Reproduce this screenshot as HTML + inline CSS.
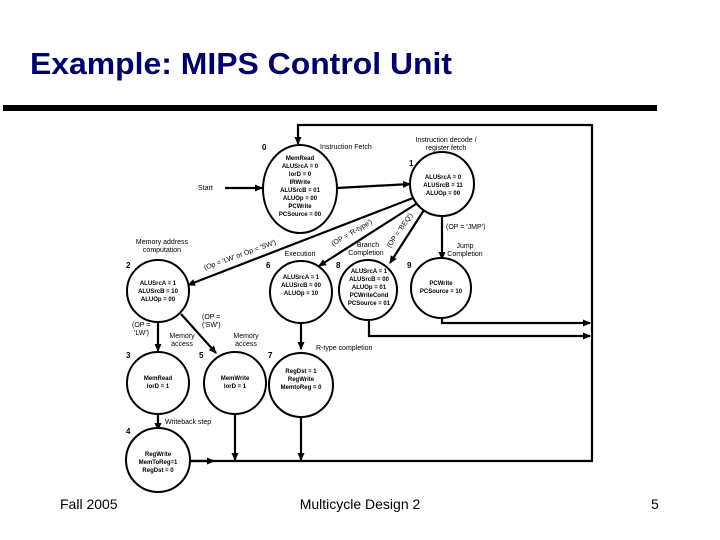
<!DOCTYPE html>
<html><head><meta charset="utf-8"><style>
html,body{margin:0;padding:0;background:#fff;}
svg{display:block;}
text{font-family:"Liberation Sans",sans-serif;}
.s{font-size:6px;font-weight:bold;text-anchor:middle;fill:#000;}
.l{font-size:7px;fill:#000;}
.n{font-size:8px;font-weight:bold;fill:#000;}
</style></head><body>
<svg width="720" height="540" viewBox="0 0 720 540" xmlns="http://www.w3.org/2000/svg">
<defs><marker id="a" markerWidth="8" markerHeight="8" refX="7" refY="4" orient="auto" markerUnits="userSpaceOnUse"><path d="M0,0.5 L8,4 L0,7.5z" fill="#000"/></marker></defs>
<text x="30" y="74" font-size="31" font-weight="bold" fill="#000066" textLength="422" lengthAdjust="spacingAndGlyphs">Example: MIPS Control Unit</text>
<rect x="3" y="105" width="654" height="6" fill="#000"/>
<g stroke="#000" stroke-width="2.2" fill="none">
<polyline points="592,124 592,461 190,461"/>
<line x1="592" y1="125" x2="298" y2="125"/>
<line x1="298" y1="124" x2="298" y2="144" marker-end="url(#a)"/>
<line x1="225" y1="188" x2="262" y2="188" marker-end="url(#a)"/>
<line x1="337" y1="188" x2="410" y2="184" marker-end="url(#a)"/>
<line x1="413" y1="198" x2="188" y2="285" marker-end="url(#a)"/>
<line x1="416" y1="204" x2="319" y2="266" marker-end="url(#a)"/>
<line x1="424" y1="210" x2="390" y2="263" marker-end="url(#a)"/>
<line x1="442" y1="214" x2="442" y2="259" marker-end="url(#a)"/>
<line x1="158" y1="322" x2="158" y2="351" marker-end="url(#a)"/>
<line x1="181" y1="314" x2="216" y2="353" marker-end="url(#a)"/>
<line x1="301" y1="323" x2="301" y2="349" marker-end="url(#a)"/>
<line x1="158" y1="414" x2="158" y2="430" marker-end="url(#a)"/>
<line x1="235" y1="414" x2="235" y2="460" marker-end="url(#a)"/>
<line x1="301" y1="418" x2="301" y2="460" marker-end="url(#a)"/>
<line x1="190" y1="461" x2="214" y2="461" marker-end="url(#a)"/>
<polyline points="442,317 442,323 590,323" marker-end="url(#a)"/>
<polyline points="369,319 369,336 590,336" marker-end="url(#a)"/>
</g>
<g stroke="#000" stroke-width="2" fill="#fff">
<ellipse cx="300" cy="189" rx="37" ry="44"/>
<circle cx="442" cy="184" r="32"/>
<circle cx="158" cy="291" r="31"/>
<circle cx="301" cy="292" r="31"/>
<ellipse cx="368" cy="290" rx="29" ry="30"/>
<circle cx="441" cy="288" r="30"/>
<circle cx="158" cy="383" r="31"/>
<circle cx="235" cy="383" r="31"/>
<circle cx="301" cy="385" r="32"/>
<circle cx="158" cy="460" r="32"/>
</g>
<text class="n" x="262" y="150">0</text><text class="n" x="409" y="166">1</text>
<text class="n" x="126" y="268">2</text><text class="n" x="266" y="268">6</text>
<text class="n" x="336" y="268">8</text><text class="n" x="407" y="268">9</text>
<text class="n" x="126" y="358">3</text><text class="n" x="199" y="358">5</text>
<text class="n" x="268" y="358">7</text><text class="n" x="126" y="434">4</text>
<text class="s" x="300" y="160">MemRead</text><text class="s" x="300" y="168">ALUSrcA = 0</text>
<text class="s" x="300" y="176">IorD = 0</text><text class="s" x="300" y="184">IRWrite</text>
<text class="s" x="300" y="192">ALUSrcB = 01</text><text class="s" x="300" y="200">ALUOp = 00</text>
<text class="s" x="300" y="208">PCWrite</text><text class="s" x="300" y="216">PCSource = 00</text>
<text class="s" x="443" y="179">ALUSrcA = 0</text><text class="s" x="443" y="187">ALUSrcB = 11</text><text class="s" x="443" y="195">ALUOp = 00</text>
<text class="s" x="158" y="285">ALUSrcA = 1</text><text class="s" x="158" y="293">ALUSrcB = 10</text><text class="s" x="158" y="301">ALUOp = 00</text>
<text class="s" x="301" y="279">ALUSrcA = 1</text><text class="s" x="301" y="287">ALUSrcB = 00</text><text class="s" x="301" y="295">ALUOp = 10</text>
<text class="s" x="369" y="273">ALUSrcA = 1</text><text class="s" x="369" y="281">ALUSrcB = 00</text><text class="s" x="369" y="289">ALUOp = 01</text><text class="s" x="369" y="297">PCWriteCond</text><text class="s" x="369" y="305">PCSource = 01</text>
<text class="s" x="441" y="285">PCWrite</text><text class="s" x="441" y="293">PCSource = 10</text>
<text class="s" x="158" y="380">MemRead</text><text class="s" x="158" y="388">IorD = 1</text>
<text class="s" x="235" y="380">MemWrite</text><text class="s" x="235" y="388">IorD = 1</text>
<text class="s" x="301" y="373">RegDst = 1</text><text class="s" x="301" y="381">RegWrite</text><text class="s" x="301" y="389">MemtoReg = 0</text>
<text class="s" x="158" y="456">RegWrite</text><text class="s" x="158" y="464">MemToReg=1</text><text class="s" x="158" y="472">RegDst = 0</text>
<text class="l" x="320" y="149">Instruction Fetch</text>
<text class="l" x="446" y="142" text-anchor="middle">Instruction decode /</text>
<text class="l" x="446" y="150" text-anchor="middle">register fetch</text>
<text class="l" x="198" y="190">Start</text>
<text class="l" x="162" y="244" text-anchor="middle">Memory address</text>
<text class="l" x="162" y="252" text-anchor="middle">computation</text>
<text class="l" x="300" y="256" text-anchor="middle">Execution</text>
<text class="l" x="368" y="247" text-anchor="middle">Branch</text>
<text class="l" x="366" y="255" text-anchor="middle">Completion</text>
<text class="l" x="465" y="248" text-anchor="middle">Jump</text>
<text class="l" x="465" y="256" text-anchor="middle">Completion</text>
<text class="l" x="446" y="229">(OP = 'JMP')</text>
<text class="l" x="205" y="270" transform="rotate(-20 205 270)">(Op = 'LW' or Op = 'SW')</text>
<text class="l" x="333" y="246" transform="rotate(-30 333 246)">(OP = 'R-type')</text>
<text class="l" x="390" y="248" transform="rotate(-55 390 248)">(OP = 'BEQ')</text>
<text class="l" x="132" y="327">(OP =</text><text class="l" x="134" y="335">'LW')</text>
<text class="l" x="202" y="319">(OP =</text><text class="l" x="202" y="327">('SW')</text>
<text class="l" x="182" y="338" text-anchor="middle">Memory</text><text class="l" x="182" y="346" text-anchor="middle">access</text>
<text class="l" x="246" y="338" text-anchor="middle">Memory</text><text class="l" x="246" y="346" text-anchor="middle">access</text>
<text class="l" x="316" y="350">R-type completion</text>
<text class="l" x="165" y="424">Writeback step</text>
<text x="60" y="509" font-size="14" fill="#000">Fall 2005</text>
<text x="360" y="509" font-size="14" fill="#000" text-anchor="middle">Multicycle Design 2</text>
<text x="651" y="509" font-size="14" fill="#000">5</text>
</svg>
</body></html>
